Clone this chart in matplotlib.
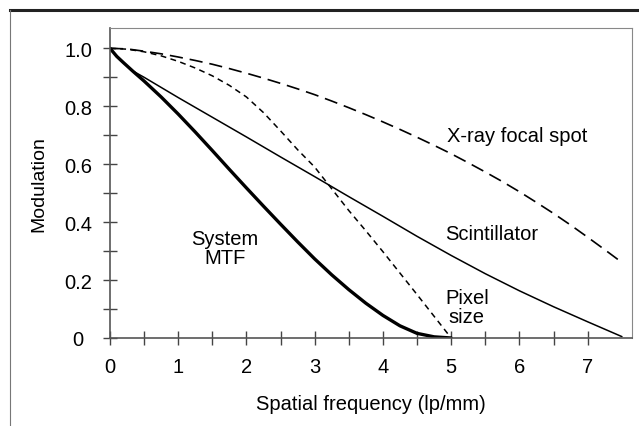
import numpy as np
import matplotlib
matplotlib.use("Agg")
import matplotlib.pyplot as plt
from matplotlib.lines import Line2D

plt.rcParams['font.family'] = ['Liberation Sans', 'DejaVu Sans']
plt.rcParams['lines.scale_dashes'] = False

# System MTF (thick solid)
mtf_x = [0, 0.1, 0.2, 0.34, 0.5, 0.75, 1.0, 1.25, 1.5, 1.75, 2.0, 2.25, 2.5, 2.75,
         3.0, 3.25, 3.5, 3.75, 4.0, 4.25, 4.5, 4.75, 5.0]
mtf_y = [1.0, 0.972, 0.95, 0.92, 0.887, 0.832, 0.773, 0.711, 0.647, 0.582, 0.518, 0.455,
         0.393, 0.332, 0.273, 0.218, 0.167, 0.12, 0.078, 0.042, 0.016, 0.004, 0.0]

# Scintillator (thin solid)
scint_x = [0, 0.15, 0.34, 0.5, 1.0, 1.5, 2.0, 2.5, 3.0, 3.5, 4.0, 4.5, 5.0, 5.5,
           6.0, 6.5, 7.0, 7.5]
scint_y = [1.0, 0.96, 0.921, 0.9, 0.83, 0.762, 0.694, 0.625, 0.557, 0.488, 0.42, 0.351,
           0.285, 0.222, 0.163, 0.108, 0.056, 0.005]

# Pixel size (short dashes)
pix_x = [0, 0.25, 0.5, 0.75, 1.0, 1.25, 1.5, 1.75, 2.0, 2.25, 2.5, 2.75, 3.0, 3.25,
         3.5, 3.75, 4.0, 4.25, 4.5, 4.75, 5.0]
pix_y = [1.0, 0.997, 0.988, 0.974, 0.955, 0.932, 0.905, 0.872, 0.832, 0.778, 0.715,
         0.65, 0.59, 0.515, 0.44, 0.37, 0.298, 0.224, 0.15, 0.075, 0.0]

# X-ray focal spot (long dashes)
xray_x = [0, 0.25, 0.5, 0.75, 1.0, 1.25, 1.5, 1.75, 2.0, 2.25, 2.5, 2.75, 3.0, 3.25,
          3.5, 3.75, 4.0, 4.25, 4.5, 4.75, 5.0, 5.25, 5.5, 5.75, 6.0, 6.25, 6.5, 6.75,
          7.0, 7.25, 7.45]
xray_y = [1.0, 0.998, 0.99, 0.981, 0.97, 0.958, 0.945, 0.93, 0.914, 0.897, 0.879, 0.86,
          0.84, 0.818, 0.795, 0.771, 0.746, 0.72, 0.693, 0.665, 0.636, 0.605, 0.573,
          0.54, 0.505, 0.468, 0.43, 0.39, 0.348, 0.305, 0.27]

x_ticks = [0, 1, 2, 3, 4, 5, 6, 7]
x_minor = [0.5, 1.5, 2.5, 3.5, 4.5, 5.5, 6.5]
y_ticks = [0, 0.2, 0.4, 0.6, 0.8, 1.0]
y_labels = ['0', '0.2', '0.4', '0.6', '0.8', '1.0']
y_minor = [0.1, 0.3, 0.5, 0.7, 0.9]

fig = plt.figure(figsize=(6.39, 4.27), dpi=100)
ax = fig.add_axes([0.1721, 0.2061, 0.989 - 0.1721, 0.932 - 0.2061])

ax.plot(mtf_x, mtf_y, color='black', lw=2.4, solid_capstyle='round', solid_joinstyle='round')
ax.plot(scint_x, scint_y, color='black', lw=1.1, solid_joinstyle='round')
ax.plot(pix_x, pix_y, color='black', lw=1.1, dashes=(4.2, 3.2))
ax.plot(xray_x, xray_y, color='black', lw=1.2, dashes=(9.5, 5.0))

ax.set_xlim(0, 7.65)
ax.set_ylim(0, 1.07)

ax.set_xticks(x_ticks)
ax.set_xticks(x_minor, minor=True)
ax.set_yticks(y_ticks)
ax.set_yticklabels(y_labels)
ax.set_yticks(y_minor, minor=True)

ax.tick_params(which='both', direction='inout', length=10, width=1, color='#444444', labelsize=14.5)
ax.tick_params(axis='x', which='major', pad=9)
ax.tick_params(axis='y', which='major', pad=18)
for lab in ax.get_yticklabels():
    lab.set_horizontalalignment('center')

for side in ['left', 'bottom']:
    ax.spines[side].set_color('#555555')
    ax.spines[side].set_linewidth(1.2)
for side in ['top', 'right']:
    ax.spines[side].set_color('#888888')
    ax.spines[side].set_linewidth(0.8)

ax.set_xlabel('Spatial frequency (lp/mm)', fontsize=14.5, labelpad=13)
ax.set_ylabel('Modulation', fontsize=14, labelpad=12)

ax.text(5.97, 0.70, 'X-ray focal spot', fontsize=14.5, ha='center', va='center')
ax.text(5.60, 0.36, 'Scintillator', fontsize=14.5, ha='center', va='center')
ax.text(1.68, 0.31, 'System\nMTF', fontsize=14.5, ha='center', va='center', linespacing=1.0)
ax.text(5.23, 0.107, 'Pixel\nsize', fontsize=14.5, ha='center', va='center', linespacing=1.0)

# outer frame of the original figure
fig.add_artist(Line2D([10 / 639, 1], [1 - 11 / 427, 1 - 11 / 427], color='#222222', lw=2.2))
fig.add_artist(Line2D([10 / 639, 10 / 639], [0, 1 - 11 / 427], color='#777777', lw=0.8))

fig.savefig('out.png', dpi=100)
